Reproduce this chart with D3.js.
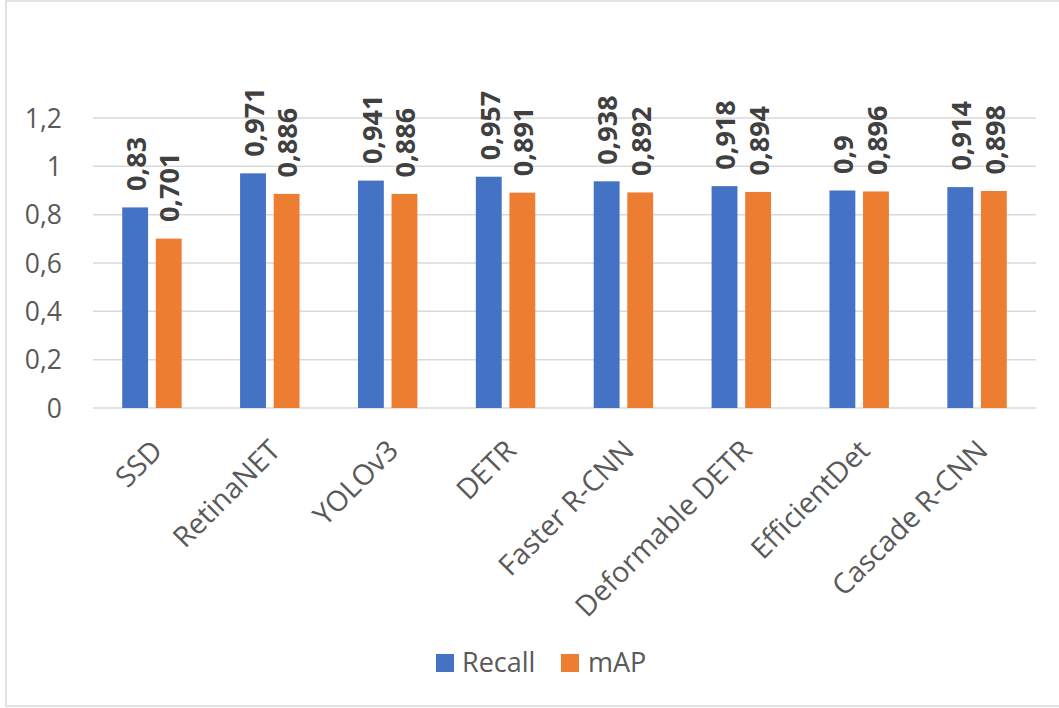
<!DOCTYPE html>
<html>
<head>
<meta charset="utf-8">
<script src="https://cdn.jsdelivr.net/npm/d3@7"></script>
<style>
  html, body { margin: 0; padding: 0; background: #fff; }
  svg { display: block; }
  text { font-family: "Open Sans", sans-serif; }
</style>
</head>
<body>
<script>
const categories = ["SSD", "RetinaNET", "YOLOv3", "DETR", "Faster R-CNN", "Deformable DETR", "EfficientDet", "Cascade R-CNN"];
const recall = [0.83, 0.971, 0.941, 0.957, 0.938, 0.918, 0.9, 0.914];
const mAP = [0.701, 0.886, 0.886, 0.891, 0.892, 0.894, 0.896, 0.898];
const seriesNames = ["Recall", "mAP"];
const seriesColors = ["#4472C4", "#ED7D31"];
const yTicks = [0, 0.2, 0.4, 0.6, 0.8, 1, 1.2];

const W = 1059, H = 708;
const svg = d3.select("body").append("svg").attr("width", W).attr("height", H);

// chart border
svg.append("rect").attr("x", 6).attr("y", 1).attr("width", W + 10).attr("height", 705)
  .attr("fill", "#fff").attr("stroke", "#d9d9d9").attr("stroke-width", 1.5);

const x0 = 93, x1 = 1036, yBase = 408, yTop = 118;
const x = d3.scaleBand().domain(categories).range([x0, x1]).paddingInner(0).paddingOuter(0);
const y = d3.scaleLinear().domain([0, 1.2]).range([yBase, yTop]);
const xs = d3.scaleBand().domain(seriesNames).range([0, x.bandwidth()]).paddingInner(0.23).paddingOuter(0.87);

const fmt = v => String(v).replace(".", ",");

// gridlines
svg.append("g").selectAll("line").data(yTicks).join("line")
  .attr("x1", x0).attr("x2", x1)
  .attr("y1", d => y(d)).attr("y2", d => y(d))
  .attr("stroke", "#d9d9d9").attr("stroke-width", 1.5);

// y axis labels
svg.append("g").selectAll("text").data(yTicks).join("text")
  .attr("x", 62).attr("y", d => y(d)).attr("dy", "0.36em")
  .attr("text-anchor", "end").attr("font-size", 26.5).attr("fill", "#595959")
  .text(d => fmt(d));

const rows = categories.map((c, i) => ({ c, vals: [recall[i], mAP[i]] }));

const groups = svg.append("g").selectAll("g").data(rows).join("g")
  .attr("transform", d => `translate(${x(d.c)},0)`);

groups.selectAll("rect").data(d => d.vals.map((v, j) => ({ v, s: seriesNames[j], j }))).join("rect")
  .attr("x", d => xs(d.s)).attr("width", xs.bandwidth())
  .attr("y", d => y(d.v)).attr("height", d => y(0) - y(d.v))
  .attr("fill", d => seriesColors[d.j]);

groups.selectAll("text").data(d => d.vals.map((v, j) => ({ v, s: seriesNames[j], j }))).join("text")
  .attr("transform", d => `translate(${xs(d.s) + xs.bandwidth() / 2 + 1},${y(d.v) - 16.5}) rotate(-90)`)
  .attr("dy", "0.36em").attr("text-anchor", "start")
  .attr("font-size", 27).attr("font-weight", "bold").attr("fill", "#404040")
  .text(d => fmt(d.v));

// category labels
svg.append("g").selectAll("text").data(categories).join("text")
  .attr("transform", c => `translate(${x(c) + x.bandwidth() / 2 + 5},${yBase + 37}) rotate(-45)`)
  .attr("dy", "0.36em").attr("text-anchor", "end")
  .attr("font-size", 28.5).attr("fill", "#595959")
  .text(c => c);

// legend
const legendItems = [{ n: seriesNames[0], c: seriesColors[0], x: 436, tx: 462 }, { n: seriesNames[1], c: seriesColors[1], x: 561, tx: 588 }];
const lg = svg.append("g");
legendItems.forEach(it => {
  lg.append("rect").attr("x", it.x).attr("y", 654).attr("width", 18).attr("height", 18).attr("fill", it.c);
  lg.append("text").attr("x", it.tx).attr("y", 672).attr("font-size", 27).attr("fill", "#595959").text(it.n);
});
</script>
</body>
</html>
